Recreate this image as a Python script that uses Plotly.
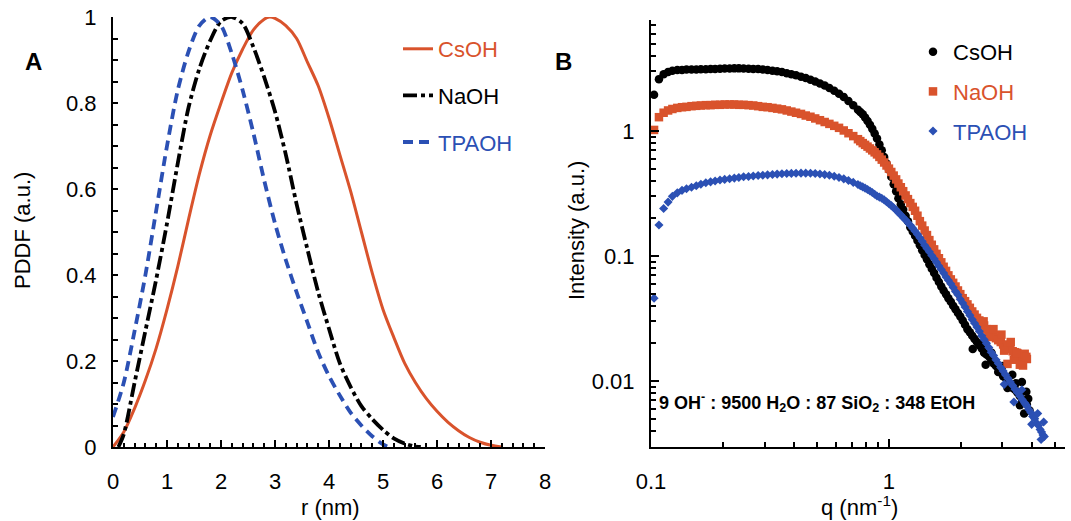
import plotly.graph_objects as go

# ---------------- Panel A data (PDDF) ----------------
r_cs = [0, 0.2, 0.4, 0.6, 0.8, 1.0, 1.2, 1.4, 1.6, 1.8, 2.0, 2.2, 2.4, 2.6, 2.8, 2.9, 3.0, 3.2, 3.4,
        3.6, 3.8, 4.0, 4.2, 4.4, 4.6, 4.8, 5.0, 5.2, 5.4, 5.6, 5.8, 6.0, 6.2, 6.4, 6.6, 6.8, 7.0, 7.2]
pddf_cs = [0, 0.035, 0.09, 0.155, 0.23, 0.32, 0.42, 0.53, 0.635, 0.725, 0.8, 0.87, 0.925, 0.97, 0.995,
           1.0, 0.997, 0.98, 0.95, 0.895, 0.84, 0.765, 0.68, 0.595, 0.5, 0.405, 0.32, 0.255, 0.195,
           0.15, 0.113, 0.083, 0.058, 0.038, 0.022, 0.011, 0.004, 0]

r_na = [0.1, 0.2, 0.4, 0.6, 0.8, 1.0, 1.2, 1.4, 1.6, 1.8, 2.0, 2.2, 2.4, 2.6, 2.8, 3.0, 3.2, 3.4, 3.6,
        3.8, 4.0, 4.2, 4.4, 4.6, 4.8, 5.0, 5.2, 5.4, 5.6, 5.7]
pddf_na = [0, 0.03, 0.15, 0.27, 0.39, 0.52, 0.66, 0.79, 0.88, 0.945, 0.99, 1.0, 0.985, 0.93, 0.86,
           0.78, 0.68, 0.565, 0.46, 0.36, 0.275, 0.195, 0.14, 0.095, 0.065, 0.04, 0.02, 0.008, 0.001, 0]

r_tpa = [0, 0.2, 0.4, 0.6, 0.8, 1.0, 1.2, 1.4, 1.6, 1.8, 2.0, 2.2, 2.4, 2.6, 2.8, 3.0, 3.2, 3.4, 3.6,
         3.8, 4.0, 4.2, 4.4, 4.6, 4.8, 5.0, 5.1]
pddf_tpa = [0.07, 0.15, 0.27, 0.4, 0.55, 0.7, 0.83, 0.92, 0.98, 1.0, 0.98, 0.915, 0.83, 0.73, 0.62,
            0.52, 0.435, 0.36, 0.29, 0.22, 0.165, 0.12, 0.08, 0.05, 0.025, 0.006, 0]

# ---------------- Panel B data (SAXS intensity) ----------------
q = [0.103, 0.108, 0.113, 0.118, 0.123, 0.129, 0.135, 0.141, 0.148, 0.155, 0.162, 0.170, 0.178, 0.186,
     0.195, 0.204, 0.214, 0.224, 0.234, 0.245, 0.257, 0.269, 0.282, 0.295, 0.309, 0.324, 0.339, 0.355,
     0.372, 0.389, 0.407, 0.427, 0.447, 0.468, 0.490, 0.513, 0.537, 0.562, 0.589, 0.617, 0.646, 0.676,
     0.708, 0.741, 0.776, 0.813, 0.851, 0.891, 0.933, 0.977, 1.023, 1.072, 1.122, 1.175, 1.230, 1.288,
     1.349, 1.413, 1.479, 1.549, 1.622, 1.698, 1.778, 1.862, 1.950, 2.042, 2.138, 2.239, 2.344, 2.455,
     2.570, 2.692, 2.818, 2.951, 3.090, 3.236, 3.388, 3.548, 3.715, 3.800]

int_cs = [1.95, 2.6, 2.85, 2.97, 3.03, 3.07, 3.08, 3.1, 3.1, 3.11, 3.12, 3.12, 3.13, 3.14, 3.15, 3.16,
          3.16, 3.17, 3.17, 3.16, 3.15, 3.14, 3.13, 3.11, 3.08, 3.04, 3.0, 2.96, 2.9, 2.85, 2.79, 2.72,
          2.65, 2.57, 2.49, 2.4, 2.31, 2.21, 2.1, 1.99, 1.87, 1.74, 1.61, 1.48, 1.36, 1.2, 1.04, 0.87,
          0.7, 0.55, 0.43, 0.33, 0.26, 0.21, 0.17, 0.145, 0.122, 0.102, 0.086, 0.073, 0.062, 0.053,
          0.046, 0.04, 0.035, 0.0305, 0.026, 0.023, 0.0205, 0.0182, 0.0163, 0.0147, 0.0132, 0.0118,
          0.0106, 0.0095, 0.0085, 0.0076, 0.0068, 0.0065]

int_na = [1.02, 1.29, 1.4, 1.46, 1.5, 1.53, 1.55, 1.56, 1.58, 1.59, 1.6, 1.61, 1.61, 1.62, 1.62, 1.63,
          1.63, 1.63, 1.62, 1.62, 1.61, 1.6, 1.58, 1.56, 1.55, 1.53, 1.51, 1.49, 1.46, 1.43, 1.4, 1.37,
          1.33, 1.3, 1.26, 1.22, 1.18, 1.14, 1.1, 1.06, 1.01, 0.96, 0.91, 0.86, 0.8, 0.75, 0.7, 0.65,
          0.59, 0.53, 0.47, 0.41, 0.355, 0.305, 0.265, 0.23, 0.19, 0.16, 0.134, 0.113, 0.096, 0.082,
          0.07, 0.061, 0.053, 0.046, 0.041, 0.036, 0.032, 0.029, 0.026, 0.024, 0.022, 0.0205, 0.019,
          0.018, 0.017, 0.016, 0.0153, 0.015]

int_tpa = [0.046, 0.177, 0.24, 0.27, 0.30, 0.32, 0.335, 0.345, 0.355, 0.365, 0.375, 0.385, 0.392,
           0.398, 0.405, 0.41, 0.415, 0.42, 0.425, 0.43, 0.433, 0.436, 0.44, 0.443, 0.446, 0.449, 0.452,
           0.455, 0.457, 0.458, 0.459, 0.46, 0.46, 0.459, 0.457, 0.453, 0.448, 0.442, 0.434, 0.425,
           0.414, 0.402, 0.388, 0.373, 0.357, 0.34, 0.322, 0.302, 0.29, 0.272, 0.253, 0.233, 0.213,
           0.194, 0.176, 0.158, 0.14, 0.122, 0.108, 0.095, 0.083, 0.073, 0.064, 0.056, 0.049, 0.042,
           0.036, 0.031, 0.027, 0.023, 0.02, 0.017, 0.0148, 0.0128, 0.0112, 0.0098, 0.0086, 0.0076,
           0.0067, 0.0063]

# additional readings in the dense high-q region
q_hi = [0.758, 0.794, 0.832, 0.871, 0.912, 0.955, 1.0, 1.047, 1.096, 1.148, 1.202, 1.259, 1.318, 1.380,
        1.445, 1.514, 1.585, 1.660, 1.738, 1.820, 1.905, 1.995, 2.089, 2.188, 2.291, 2.399, 2.512,
        2.630, 2.754, 2.884, 3.020, 3.162, 3.311, 3.467, 3.630, 3.760]
int_cs_hi = [1.42, 1.28, 1.12, 0.955, 0.78, 0.62, 0.49, 0.375, 0.29, 0.235, 0.19, 0.157, 0.133, 0.111,
             0.094, 0.079, 0.067, 0.057, 0.0495, 0.043, 0.0375, 0.0328, 0.0282, 0.0245, 0.0217, 0.0193,
             0.0168, 0.0158, 0.0138, 0.0128, 0.0109, 0.0103, 0.0088, 0.0081, 0.0071, 0.0067]
int_na_hi = [0.83, 0.775, 0.725, 0.675, 0.62, 0.56, 0.5, 0.44, 0.38, 0.33, 0.285, 0.247, 0.21, 0.175,
             0.147, 0.123, 0.104, 0.089, 0.076, 0.065, 0.057, 0.0495, 0.0435, 0.0385, 0.034, 0.0305,
             0.0278, 0.0252, 0.0232, 0.0212, 0.0196, 0.0187, 0.0173, 0.0166, 0.0156, 0.0151]
int_tpa_hi = [0.365, 0.349, 0.331, 0.312, 0.296, 0.281, 0.262, 0.243, 0.223, 0.203, 0.185, 0.167, 0.149,
              0.131, 0.115, 0.101, 0.089, 0.078, 0.068, 0.06, 0.052, 0.045, 0.039, 0.0335, 0.029, 0.025,
              0.0215, 0.0185, 0.016, 0.0138, 0.012, 0.0105, 0.0092, 0.0081, 0.0071, 0.0065]

# noisy high-q points
q_cs_noise = [2.25, 2.42, 2.55, 2.7, 2.88, 3.0, 3.15, 3.3, 3.42, 3.55, 3.62, 3.7, 3.78, 3.85, 3.9]
int_cs_noise = [0.018, 0.0198, 0.0135, 0.0168, 0.0118, 0.0132, 0.0088, 0.0112, 0.0096, 0.0064,
                0.0098, 0.0055, 0.0082, 0.0072, 0.0058]
q_na_noise = [2.5, 2.62, 2.75, 2.88, 2.97, 3.05, 3.15, 3.25, 3.35, 3.45, 3.55, 3.66, 3.72, 3.78]
int_na_noise = [0.03, 0.0225, 0.026, 0.0215, 0.0235, 0.0175, 0.0137, 0.0205, 0.0148, 0.0168, 0.0135,
                0.0133, 0.0165, 0.0156]
q_tpa_tail = [3.88, 3.95, 4.02, 4.1, 4.18, 4.25, 4.32, 4.38, 4.44, 4.5, 3.62, 3.35, 3.05, 3.98, 4.22,
              4.36, 4.47]
int_tpa_tail = [0.0059, 0.0056, 0.0052, 0.005, 0.0046, 0.0044, 0.0041, 0.0039, 0.0037, 0.0036, 0.0085,
                0.0068, 0.0094, 0.0045, 0.0055, 0.0034, 0.0047]

ORANGE = "#D9532C"
BLUE = "#2B50B4"
BLACK = "#000000"
FONT = "Liberation Sans, Arial, Helvetica, sans-serif"

W, H = 1071, 521
def px_x(p):
    return p / W
def px_y(p):
    return 1 - p / H

fig = go.Figure()

# Panel A
fig.add_trace(go.Scatter(x=r_cs, y=pddf_cs, mode="lines", xaxis="x", yaxis="y",
                         line=dict(color=ORANGE, width=3, shape="spline", smoothing=0.8),
                         name=f'<span style="color:{ORANGE}">CsOH</span>',
                         legend="legend", legendgroup="a1"))
fig.add_trace(go.Scatter(x=r_na, y=pddf_na, mode="lines", xaxis="x", yaxis="y",
                         line=dict(color=BLACK, width=3.8, dash="14px,4px,4px,4px",
                                   shape="spline", smoothing=0.8),
                         name=f'<span style="color:{BLACK}">NaOH</span>',
                         legend="legend", legendgroup="a2"))
fig.add_trace(go.Scatter(x=r_tpa, y=pddf_tpa, mode="lines", xaxis="x", yaxis="y",
                         line=dict(color=BLUE, width=3.8, dash="10px,6px", shape="spline", smoothing=0.8),
                         name=f'<span style="color:{BLUE}">TPAOH</span>',
                         legend="legend", legendgroup="a3"))

# Panel B
fig.add_trace(go.Scatter(x=q + q_hi + q_cs_noise, y=int_cs + int_cs_hi + int_cs_noise, mode="markers",
                         xaxis="x2", yaxis="y2",
                         marker=dict(color=BLACK, size=8.5, symbol="circle", line=dict(width=0)),
                         name=f'<span style="color:{BLACK}">CsOH</span>',
                         legend="legend2", legendgroup="b1"))
fig.add_trace(go.Scatter(x=q + q_hi + q_na_noise, y=int_na + int_na_hi + int_na_noise, mode="markers",
                         xaxis="x2", yaxis="y2",
                         marker=dict(color=ORANGE, size=8.5, symbol="square", line=dict(width=0)),
                         name=f'<span style="color:{ORANGE}">NaOH</span>',
                         legend="legend2", legendgroup="b2"))
fig.add_trace(go.Scatter(x=q + q_hi + q_tpa_tail, y=int_tpa + int_tpa_hi + int_tpa_tail, mode="markers",
                         xaxis="x2", yaxis="y2",
                         marker=dict(color=BLUE, size=7, symbol="diamond", line=dict(width=0)),
                         name=f'<span style="color:{BLUE}">TPAOH</span>',
                         legend="legend2", legendgroup="b3"))

axis_common = dict(showline=True, linecolor="black", linewidth=2, showgrid=False, zeroline=False,
                   automargin=False, ticks="inside", tickcolor="black", tickwidth=1.6,
                   tickfont=dict(family=FONT, size=22, color="black"))

fig.update_layout(
    width=W, height=H,
    margin=dict(l=0, r=0, t=0, b=0),
    paper_bgcolor="white", plot_bgcolor="white",
    font=dict(family=FONT, size=22, color="black"),
    xaxis=dict(domain=[px_x(113), px_x(545)], range=[0, 8], anchor="y", tick0=0, dtick=1, ticklen=7,
               minor=dict(dtick=0.2, ticks="inside", ticklen=4, tickwidth=1.6, tickcolor="black"),
               ticklabelstandoff=14, **axis_common),
    yaxis=dict(domain=[px_y(447), px_y(17)], range=[0, 1], anchor="x", tick0=0, dtick=0.2, ticklen=5,
               minor=dict(dtick=0.05, ticks="inside", ticklen=5, tickwidth=1.6, tickcolor="black"),
               ticklabelstandoff=10, **axis_common),
    xaxis2=dict(domain=[px_x(651), px_x(1065)], type="log", range=[-1, 0.74], anchor="y2",
                tickmode="array", tickvals=[0.1, 1], ticktext=["0.1", "1"], ticklen=8,
                minor=dict(tickmode="array",
                           tickvals=[0.2, 0.3, 0.4, 0.5, 0.6, 0.7, 0.8, 0.9, 2, 3, 4, 5],
                           ticks="inside", ticklen=5, tickwidth=1.6, tickcolor="black"),
                ticklabelstandoff=14, **axis_common),
    yaxis2=dict(domain=[px_y(447), px_y(20)], type="log", range=[-2.528, 0.888], anchor="x2",
                tickmode="array", tickvals=[0.01, 0.1, 1], ticktext=["0.01", "0.1", "1"], ticklen=8,
                minor=dict(tickmode="array",
                           tickvals=[0.004, 0.005, 0.006, 0.007, 0.008, 0.009,
                                     0.02, 0.03, 0.04, 0.05, 0.06, 0.07, 0.08, 0.09,
                                     0.2, 0.3, 0.4, 0.5, 0.6, 0.7, 0.8, 0.9, 2, 3, 4, 5, 6, 7],
                           ticks="inside", ticklen=5, tickwidth=1.6, tickcolor="black"),
                ticklabelstandoff=10, **axis_common),
    legend=dict(x=px_x(398), y=px_y(28), xanchor="left", yanchor="top",
                bgcolor="rgba(0,0,0,0)", font=dict(family=FONT, size=22),
                tracegroupgap=15, itemwidth=30),
    legend2=dict(x=px_x(913), y=px_y(31), xanchor="left", yanchor="top",
                 bgcolor="rgba(0,0,0,0)", font=dict(family=FONT, size=22),
                 tracegroupgap=8, itemwidth=30),
    showlegend=True,
)

def label(text, x, y, size=22, angle=0, xanchor="center"):
    fig.add_annotation(text=text, x=px_x(x), y=px_y(y), xref="paper", yref="paper",
                       xanchor=xanchor, yanchor="middle", textangle=angle, showarrow=False,
                       font=dict(family=FONT, size=size, color="black"))

# axis titles
label("r (nm)", 330, 507)
label("PDDF (a.u.)", 22, 231, angle=-90)
label("q (nm<sup>-1</sup>)", 859, 506)
label("Intensity (a.u.)", 576, 231, angle=-90)
# panel letters
label("<b>A</b>", 33, 62, size=24)
label("<b>B</b>", 563, 62, size=24)
# composition note
label("<b>9 OH<sup>-</sup> : 9500 H<sub>2</sub>O : 87 SiO<sub>2</sub> : 348 EtOH</b>", 657, 402,
      size=18, xanchor="left")

fig.write_html("out.html")
